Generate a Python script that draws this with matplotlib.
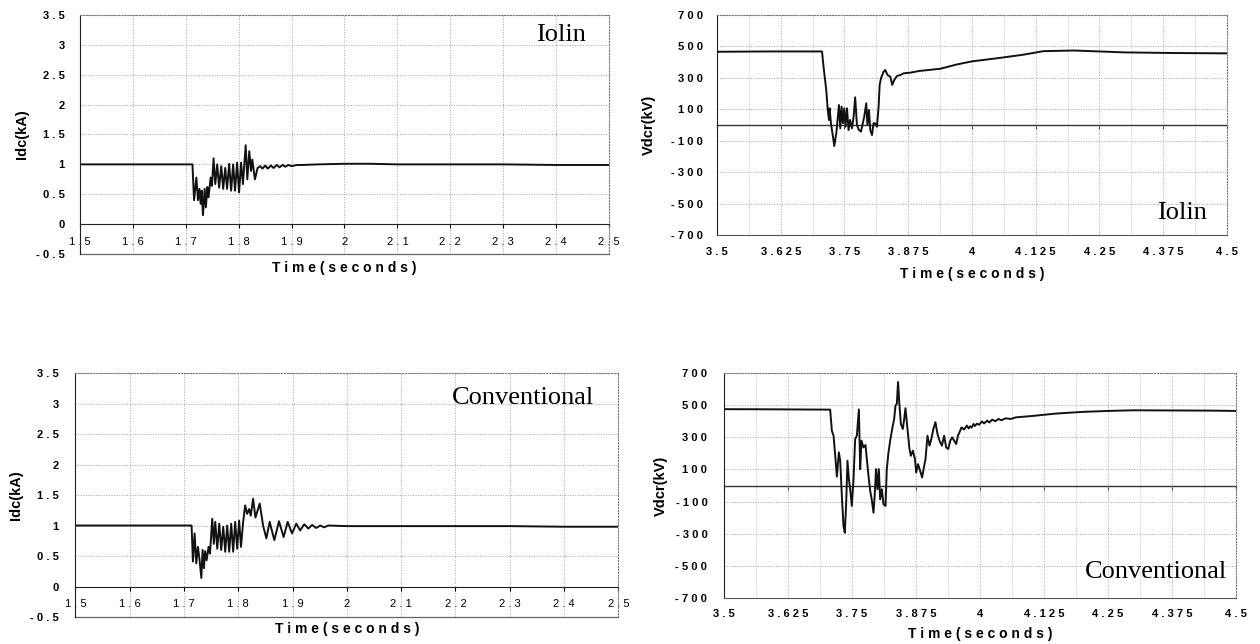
import matplotlib
matplotlib.use('Agg')
import matplotlib.pyplot as plt
from matplotlib.ticker import FuncFormatter, MultipleLocator, NullFormatter

plt.rcParams['font.family'] = ['Liberation Sans', 'DejaVu Sans']

# --- Idc, Iolin (top left) ---
t_idc_iolin = [1.5, 1.6, 1.7, 1.7126, 1.7156, 1.720, 1.723, 1.7257, 1.7281, 1.730,
               1.7325, 1.7356, 1.738, 1.7407, 1.743, 1.747, 1.7494, 1.7525, 1.7557, 1.7594,
               1.763, 1.767, 1.7707, 1.7745, 1.778, 1.782, 1.7857, 1.7895, 1.793, 1.797,
               1.8007, 1.8045, 1.808, 1.8132, 1.8163, 1.820, 1.8233, 1.8257, 1.8307, 1.8357,
               1.8407, 1.845, 1.850, 1.855, 1.861, 1.866, 1.872, 1.877, 1.883, 1.888,
               1.894, 1.900, 1.910, 1.920, 1.950, 2.0, 2.05, 2.1, 2.2, 2.3,
               2.4, 2.5]
idc_iolin = [1.0, 1.0, 1.0, 1.0, 0.40, 0.78, 0.40, 0.59, 0.34, 0.56,
             0.15, 0.59, 0.28, 0.62, 0.45, 0.78, 0.64, 1.10, 0.67, 1.0,
             0.61, 0.97, 0.59, 0.94, 0.59, 1.01, 0.56, 1.0, 0.56, 1.03,
             0.53, 1.03, 0.67, 1.32, 0.75, 1.22, 0.89, 1.08, 0.75, 0.94,
             0.97, 0.93, 0.98, 0.93, 0.98, 0.94, 0.99, 0.95, 0.99, 0.96,
             0.99, 0.97, 0.99, 0.99, 1.0, 1.01, 1.01, 1.0, 1.0, 1.0,
             0.99, 0.99]

# --- Vdcr, Iolin (top right) ---
t_vdc_iolin = [3.5, 3.6, 3.706, 3.709, 3.7143, 3.717, 3.7196, 3.721, 3.7235, 3.7275,
               3.730, 3.734, 3.7365, 3.7392, 3.7418, 3.7443, 3.747, 3.7496, 3.752, 3.755,
               3.758, 3.761, 3.7647, 3.768, 3.771, 3.7745, 3.7784, 3.7824, 3.786, 3.7888,
               3.7927, 3.795, 3.798, 3.8006, 3.804, 3.807, 3.810, 3.8137, 3.817, 3.819,
               3.8216, 3.8267, 3.830, 3.8345, 3.840, 3.8437, 3.8476, 3.853, 3.8594, 3.866,
               3.879, 3.897, 3.938, 3.97, 4.0, 4.05, 4.1, 4.14, 4.2, 4.3,
               4.4, 4.5]
vdc_iolin = [466, 468, 468, 371, 223, 106, 32, 106, 11, -74,
             -134, -53, 32, 127, -21, 117, 11, 106, -11, 106,
             -32, 32, -21, 53, 176, 0, -32, -42, 11, 53,
             138, 0, 96, -32, -64, 11, 11, -11, 117, 255,
             297, 339, 350, 318, 307, 255, 286, 312, 318, 329,
             333, 344, 358, 385, 405, 425, 447, 470, 474, 462,
             458, 456]

# --- Idc, Conventional (bottom left) ---
t_idc_conv = [1.5, 1.6, 1.7, 1.714, 1.7165, 1.7196, 1.7227, 1.7257, 1.7288, 1.732,
              1.7343, 1.7367, 1.739, 1.7417, 1.7453, 1.748, 1.752, 1.755, 1.7576, 1.7613,
              1.765, 1.7686, 1.7723, 1.776, 1.7796, 1.7833, 1.787, 1.7906, 1.7943, 1.798,
              1.8016, 1.805, 1.809, 1.8127, 1.8163, 1.820, 1.823, 1.8273, 1.8316, 1.8395,
              1.8457, 1.8517, 1.8578, 1.8664, 1.875, 1.8835, 1.891, 1.899, 1.9068, 1.914,
              1.9215, 1.929, 1.936, 1.9435, 1.951, 1.958, 1.966, 2.0, 2.1, 2.2,
              2.3, 2.4, 2.5]
idc_conv = [1.0, 1.0, 1.0, 1.0, 0.41, 0.87, 0.38, 0.65, 0.43, 0.14,
            0.60, 0.30, 0.58, 0.43, 0.65, 0.54, 1.11, 0.70, 1.06, 0.62,
            1.03, 0.60, 0.98, 0.57, 1.0, 0.57, 1.03, 0.57, 1.06, 0.62,
            1.08, 0.65, 1.06, 1.33, 1.19, 1.27, 1.16, 1.44, 1.13, 1.36,
            1.0, 0.79, 1.06, 0.76, 1.07, 0.81, 1.06, 0.87, 1.03, 0.92,
            1.02, 0.95, 1.01, 0.96, 1.0, 0.97, 1.0, 0.99, 0.99, 0.99,
            0.99, 0.98, 0.98]

# --- Vdcr, Conventional (bottom right) ---
t_vdc_conv = [3.5, 3.6, 3.7074, 3.7107, 3.714, 3.7178, 3.7205, 3.7244, 3.727, 3.7302,
              3.7334, 3.736, 3.7387, 3.7412, 3.744, 3.7465, 3.7497, 3.753, 3.7562, 3.7595,
              3.7635, 3.766, 3.7686, 3.7725, 3.7764, 3.779, 3.783, 3.7856, 3.789, 3.792,
              3.7947, 3.797, 3.7998, 3.8025, 3.805, 3.8084, 3.8115, 3.8155, 3.818, 3.8213,
              3.8246, 3.8285, 3.8324, 3.835, 3.8376, 3.840, 3.8428, 3.8455, 3.8494, 3.852,
              3.8545, 3.8584, 3.8623, 3.865, 3.869, 3.873, 3.8754, 3.879, 3.8832, 3.887,
              3.8898, 3.8936, 3.8975, 3.9014, 3.905, 3.909, 3.913, 3.917, 3.921, 3.9256,
              3.93, 3.934, 3.938, 3.942, 3.9457, 3.9496, 3.9535, 3.957, 3.960, 3.964,
              3.969, 3.9744, 3.978, 3.981, 3.984, 3.9873, 3.990, 3.994, 3.998, 4.004,
              4.008, 4.014, 4.018, 4.024, 4.03, 4.036, 4.042, 4.05, 4.06, 4.07,
              4.1, 4.125, 4.15, 4.2, 4.25, 4.3, 4.375, 4.45, 4.5]
vdc_conv = [475, 474, 472, 341, 310, 164, 56, 206, 154, -65,
            -252, -294, -106, 154, 39, -23, -127, 39, 289, 310,
            473, 102, 279, 237, 252, 164, 39, -33, -96, -169,
            -44, 102, -23, 102, -86, -23, -117, -127, 102, 206,
            279, 352, 414, 498, 508, 644, 498, 383, 352, 414,
            481, 352, 227, 185, 217, 164, 81, 133, 91, 50,
            102, 164, 310, 248, 289, 352, 394, 321, 279, 248,
            310, 237, 227, 279, 300, 279, 258, 310, 331, 362,
            348, 373, 355, 369, 360, 383, 370, 385, 378, 398,
            386, 404, 392, 410, 400, 414, 406, 418, 414, 424,
            432, 440, 448, 458, 464, 468, 467, 466, 464]

idc_yticks = [-0.5, 0, 0.5, 1, 1.5, 2, 2.5, 3, 3.5]
idc_xticks = [1.5, 1.6, 1.7, 1.8, 1.9, 2.0, 2.1, 2.2, 2.3, 2.4, 2.5]
vdc_yticks = [-700, -500, -300, -100, 100, 300, 500, 700]
vdc_xticks = [3.5, 3.625, 3.75, 3.875, 4.0, 4.125, 4.25, 4.375, 4.5]

LINE = '#111111'
GRID = '#a0a0a0'


def spaced(v, pos=None):
    # the original tick labels are letter-spaced
    return ' '.join(f'{v:g}')


def common(ax, ylabel, ylabel_x, xlabel_y, ypad):
    ax.grid(True, which='major', ls=':', color=GRID, lw=0.7)
    ax.set_axisbelow(True)
    ax.xaxis.set_major_formatter(FuncFormatter(spaced))
    ax.yaxis.set_major_formatter(FuncFormatter(spaced))
    ax.tick_params(axis='both', labelsize=8)
    for lab in ax.get_xticklabels() + ax.get_yticklabels():
        lab.set_fontweight('bold')
    ax.tick_params(axis='y', length=0, pad=ypad)
    ax.spines['left'].set_color('#222222')
    for s in ('top', 'right'):
        ax.spines[s].set_linestyle(':')
        ax.spines[s].set_color('#777777')
    ax.set_ylabel(ylabel, fontsize=10.5, fontweight='bold')
    ax.yaxis.set_label_coords(ylabel_x, 0.5)
    ax.set_xlabel('T i m e ( s e c o n d s )', fontsize=10, fontweight='bold')
    ax.xaxis.set_label_coords(0.5, xlabel_y)


def idc_panel(rect, t, y, tag, tag_xy, ylabel_x, xlabel_y, ypad):
    ax = fig.add_axes(rect)
    ax.plot(t, y, color=LINE, lw=1.4)
    ax.set_xlim(1.5, 2.5)
    ax.set_ylim(-0.5, 3.5)
    ax.set_xticks(idc_xticks)
    ax.set_yticks(idc_yticks)
    common(ax, 'Idc(kA)', ylabel_x, xlabel_y, ypad)
    ax.spines['bottom'].set_position(('data', 0))
    ax.spines['bottom'].set_color('#222222')
    ax.tick_params(axis='x', direction='out', length=3, width=0.8, pad=6)
    # lower edge of the frame
    ax.plot([0, 1], [0, 0], transform=ax.transAxes, color='#666666', lw=0.9, clip_on=False)
    ax.text(tag_xy[0], tag_xy[1], tag, transform=ax.transAxes, ha='center', va='center',
            fontsize=19, family='Liberation Serif')
    return ax


def vdc_panel(rect, t, y, tag, tag_xy, ylabel_x, xlabel_y, xpad, ypad):
    ax = fig.add_axes(rect)
    ax.plot(t, y, color=LINE, lw=1.4, zorder=3)
    ax.set_xlim(3.5, 4.5)
    ax.set_ylim(-700, 700)
    ax.set_xticks(vdc_xticks)
    ax.set_yticks(vdc_yticks)
    ax.xaxis.set_minor_locator(MultipleLocator(0.0625))
    ax.grid(True, which='minor', axis='x', ls=':', color=GRID, lw=0.5)
    common(ax, 'Vdcr(kV)', ylabel_x, xlabel_y, ypad)
    ax.tick_params(axis='x', which='both', length=0, pad=xpad)
    ax.spines['bottom'].set_color('#555555')
    # zero line with small tick marks
    zero = ax.secondary_xaxis(0.5)
    zero.set_xticks(vdc_xticks)
    zero.xaxis.set_major_formatter(NullFormatter())
    zero.tick_params(direction='in', length=3, width=0.8, color='#333333',
                     labelbottom=False, labeltop=False)
    for sp in zero.spines.values():
        sp.set_color('#333333')
        sp.set_linewidth(1.0)
    ax.text(tag_xy[0], tag_xy[1], tag, transform=ax.transAxes, ha='center', va='center',
            fontsize=19, family='Liberation Serif')
    return ax


fig = plt.figure(figsize=(12.6, 6.44), dpi=100)

idc_panel([0.0635, 0.6056, 0.4198, 0.3711], t_idc_iolin, idc_iolin, 'Iolin', (0.91, 0.916),
          -0.097, -0.03, 11)
vdc_panel([0.569, 0.6351, 0.4048, 0.3416], t_vdc_iolin, vdc_iolin, 'Iolin', (0.912, 0.10),
          -0.12, -0.145, 9, 10)
idc_panel([0.0598, 0.0419, 0.431, 0.3789], t_idc_conv, idc_conv, 'Conventional', (0.824, 0.898),
          -0.096, -0.022, 12)
vdc_panel([0.5746, 0.0714, 0.4063, 0.3494], t_vdc_conv, vdc_conv, 'Conventional', (0.844, 0.116),
          -0.11, -0.13, 8, 12)

fig.savefig('out.png', dpi=100, facecolor='white')
